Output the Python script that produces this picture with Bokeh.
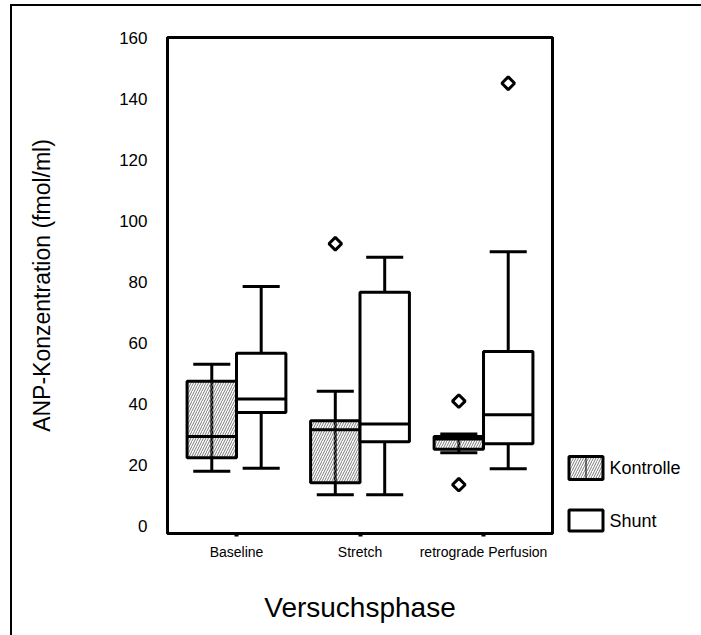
import numpy as np
from bokeh.plotting import figure
from bokeh.layouts import row
from bokeh.models import Range1d, FixedTicker
from bokeh.core.properties import value
from bokeh.embed import file_html
from bokeh.resources import INLINE

# ANP concentration (fmol/ml) per experimental phase: box-plot statistics
phases = ["Baseline", "Stretch", "retrograde Perfusion"]
phase_pos = [1, 2, 3]
groups = ["Kontrolle", "Shunt"]

kontrolle_low = [17.8, 10.1, 23.9]
kontrolle_q1 = [22.2, 14.0, 25.0]
kontrolle_med = [29.2, 31.4, 28.4]
kontrolle_q3 = [47.3, 34.4, 29.2]
kontrolle_high = [52.9, 44.0, 30.0]
kontrolle_out_phase = [2, 3, 3]
kontrolle_out_val = [92.4, 40.8, 13.4]

shunt_low = [18.8, 10.1, 18.6]
shunt_q1 = [37.1, 27.5, 26.8]
shunt_med = [41.5, 33.3, 36.3]
shunt_q3 = [56.5, 76.5, 57.1]
shunt_high = [78.4, 88.0, 89.8]
shunt_out_phase = [3]
shunt_out_val = [145.0]

y_ticks = [0, 20, 40, 60, 80, 100, 120, 140, 160]

FONT = "Liberation Sans"
OFFSET = 0.2
BOX_W = 0.4
CAP_W = 0.3
LW = 3
HATCH = dict(hatch_pattern="/", hatch_color="#7a7a7a", hatch_scale=5, hatch_weight=1)

p = figure(width=545, height=629, output_backend="svg", toolbar_location=None,
           x_range=Range1d(0.4415, 3.5585), y_range=Range1d(-2.6, 160),
           min_border_left=155, min_border_right=5,
           min_border_top=31, min_border_bottom=102)
p.background_fill_color = "white"
p.border_fill_color = "white"
p.xgrid.visible = False
p.ygrid.visible = False
p.outline_line_color = "black"
p.outline_line_width = 3

# y axis
p.yaxis.ticker = FixedTicker(ticks=y_ticks)
p.yaxis.axis_line_color = None
p.yaxis.major_tick_out = 0
p.yaxis.major_tick_in = 0
p.yaxis.minor_tick_line_color = None
p.yaxis.major_label_standoff = 20
p.yaxis.major_label_text_font = FONT
p.yaxis.major_label_text_font_size = "17px"
p.yaxis.major_label_text_color = "black"
p.yaxis.axis_label = "ANP-Konzentration (fmol/ml)"
p.yaxis.axis_label_text_font = FONT
p.yaxis.axis_label_text_font_size = "23px"
p.yaxis.axis_label_text_font_style = "normal"
p.yaxis.axis_label_text_color = "black"
p.yaxis.axis_label_standoff = 61

# x axis
p.xaxis.ticker = FixedTicker(ticks=phase_pos)
p.xaxis.major_label_overrides = {pos: name for pos, name in zip(phase_pos, phases)}
p.xaxis.axis_line_color = None
p.xaxis.major_tick_out = 3
p.xaxis.major_tick_in = 0
p.xaxis.major_tick_line_width = 4
p.xaxis.minor_tick_line_color = None
p.xaxis.major_label_standoff = 7
p.xaxis.major_label_text_font = FONT
p.xaxis.major_label_text_font_size = "14px"
p.xaxis.major_label_text_color = "black"
p.xaxis.axis_label = "Versuchsphase"
p.xaxis.axis_label_text_font = FONT
p.xaxis.axis_label_text_font_size = "28px"
p.xaxis.axis_label_text_font_style = "normal"
p.xaxis.axis_label_text_color = "black"
p.xaxis.axis_label_standoff = 29


def draw_group(shift, low, q1, med, q3, high, hatched):
    xs = np.array(phase_pos, dtype=float) + shift
    # whisker stem (runs through the box)
    p.segment(x0=xs, y0=low, x1=xs, y1=high, line_color="black", line_width=LW)
    # caps
    p.segment(x0=xs - CAP_W / 2, y0=low, x1=xs + CAP_W / 2, y1=low,
              line_color="black", line_width=LW)
    p.segment(x0=xs - CAP_W / 2, y0=high, x1=xs + CAP_W / 2, y1=high,
              line_color="black", line_width=LW)
    if hatched:
        p.quad(left=xs - BOX_W / 2, right=xs + BOX_W / 2, bottom=q1, top=q3,
               fill_alpha=0, line_color="black", line_width=LW, **HATCH)
    else:
        p.quad(left=xs - BOX_W / 2, right=xs + BOX_W / 2, bottom=q1, top=q3,
               fill_color="white", line_color="black", line_width=LW)
    p.segment(x0=xs - BOX_W / 2, y0=med, x1=xs + BOX_W / 2, y1=med,
              line_color="black", line_width=LW)


draw_group(-OFFSET, kontrolle_low, kontrolle_q1, kontrolle_med,
           kontrolle_q3, kontrolle_high, True)
draw_group(OFFSET, shunt_low, shunt_q1, shunt_med, shunt_q3, shunt_high, False)

# outliers
p.scatter(x=np.array(kontrolle_out_phase, dtype=float) - OFFSET, y=kontrolle_out_val,
          marker="square", angle=np.pi / 4, size=9, fill_color="white",
          line_color="black", line_width=LW)
p.scatter(x=np.array(shunt_out_phase, dtype=float) + OFFSET, y=shunt_out_val,
          marker="square", angle=np.pi / 4, size=9, fill_color="white",
          line_color="black", line_width=LW)

# key panel to the right of the chart; its frame lines up with the chart's,
# coordinates are pixels counted up from the bottom of the page
key = figure(width=144, height=629, output_backend="svg", toolbar_location=None,
             x_range=Range1d(0, 144), y_range=Range1d(102, 598),
             min_border=0, outline_line_color=None)
key.axis.visible = False
key.grid.visible = False
key.background_fill_color = "white"
key.border_fill_color = "white"

sw_left, sw_right = 11.5, 45.5
sw_bottom = [156, 104.5]
sw_top = [179, 125.5]
key.quad(left=[sw_left], right=[sw_right], bottom=[sw_bottom[0]], top=[sw_top[0]],
         fill_color="white", line_color="black", line_width=LW, **HATCH)
key.segment(x0=[(sw_left + sw_right) / 2], y0=[sw_bottom[0]],
            x1=[(sw_left + sw_right) / 2], y1=[sw_top[0]],
            line_color="black", line_width=1)
key.quad(left=[sw_left], right=[sw_right], bottom=[sw_bottom[1]], top=[sw_top[1]],
         fill_color="white", line_color="black", line_width=LW)
key.text(x=[sw_right + 6.5] * 2,
         y=[(b + t) / 2 for b, t in zip(sw_bottom, sw_top)],
         text=groups, text_baseline="middle", text_align="left",
         text_font=value(FONT), text_font_size="18px", text_color="black")

# page frame: black rule along the left and top edges
layout = row(p, key, spacing=0, margin=(4, 0, 0, 10),
             styles={"border-left": "2px solid black", "border-top": "2px solid black"})

open("out.html", "w").write(file_html(layout, INLINE))
